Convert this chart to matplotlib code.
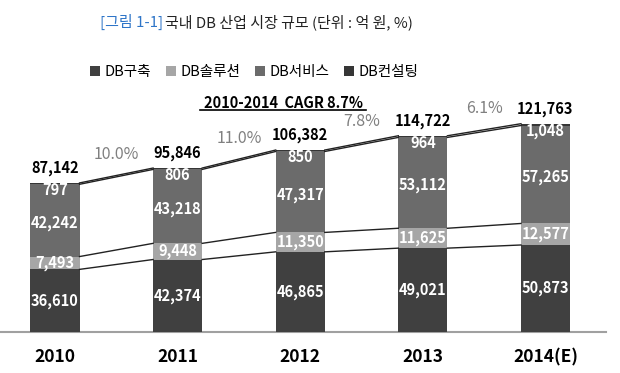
import numpy as np
import matplotlib
matplotlib.use("Agg")
import matplotlib.pyplot as plt
from matplotlib.patches import Patch

plt.rcParams["font.family"] = ["Noto Sans CJK KR", "DejaVu Sans"]

years = ["2010", "2011", "2012", "2013", "2014(E)"]
db_build = [36610, 42374, 46865, 49021, 50873]
db_solution = [7493, 9448, 11350, 11625, 12577]
db_service = [42242, 43218, 47317, 53112, 57265]
db_consult = [797, 806, 850, 964, 1048]
totals = [87142, 95846, 106382, 114722, 121763]
growth = ["10.0%", "11.0%", "7.8%", "6.1%"]
series_names = ["DB구축", "DB솔루션", "DB서비스", "DB컨설팅"]
colors = ["#404040", "#a6a6a6", "#6b6b6b", "#363636"]

W, H = 620, 373
fig = plt.figure(figsize=(W / 100, H / 100), dpi=100)
ax = fig.add_axes([0, 0, 1, 1])
ax.set_axis_off()

# map pixels: bar centres at 55 .. 545.5 px, baseline at 332 px from top
px_x = (545.5 - 55) / 4
ax.set_xlim(-55 / px_x, 4 + (W - 545.5) / px_x)
upp = 584.6  # units per pixel
ax.set_ylim(-(H - 332) * upp, 332 * upp)

x = np.arange(len(years))
bw = 0.4
series = [db_build, db_solution, db_service, db_consult]
bottom = np.zeros(len(years))
cums = []
for vals, c in zip(series, colors):
    ax.bar(x, vals, bw, bottom=bottom, color=c, edgecolor="none", zorder=2)
    bottom = bottom + np.array(vals)
    cums.append(bottom.copy())

# connector lines between bars
for cum in cums:
    for i in range(len(x) - 1):
        ax.plot([x[i] + bw / 2, x[i + 1] - bw / 2], [cum[i], cum[i + 1]],
                color="#222222", lw=1.0, zorder=3)

# baseline
ax.plot([ax.get_xlim()[0], x[-1] + (606 - 545.5) / px_x], [0, 0],
        color="#a0a0a0", lw=1.5, zorder=1)

lab = dict(color="white", fontsize=10.5, fontweight="bold", ha="center",
           va="center", zorder=4)
for i in range(len(x)):
    ax.text(x[i], db_build[i] / 2, f"{db_build[i]:,}", **lab)
    ax.text(x[i], cums[0][i] + db_solution[i] / 2, f"{db_solution[i]:,}", **lab)
    ax.text(x[i], cums[1][i] + db_service[i] / 2 - 1500, f"{db_service[i]:,}", **lab)
    ax.text(x[i], cums[3][i] - 7 * upp, f"{db_consult[i]:,}", **lab)
    ax.text(x[i], totals[i] + 15 * upp, f"{totals[i]:,}", color="black",
            fontsize=10.5, fontweight="bold", ha="center", va="center")
    ax.text(x[i], -25 * upp, years[i], color="black", fontsize=12.5,
            fontweight="bold", ha="center", va="center")

for i, g in enumerate(growth):
    y = (totals[i] + totals[i + 1]) / 2 + 21 * upp
    ax.text(x[i] + 0.5, y, g, color="#808080", fontsize=11.5,
            ha="center", va="center")

ax.text(1.86, 229 * upp, "2010-2014  CAGR 8.7%", color="black",
        fontsize=10.5, fontweight="bold", ha="center", va="center")
ax.plot([1.18, 2.54], [222 * upp, 222 * upp], color="black", lw=1.2)

handles = [Patch(facecolor=c, edgecolor="none") for c in colors]
fig.legend(handles, series_names, loc="center", bbox_to_anchor=(254 / W, 1 - 72 / H),
           ncol=4, frameon=False, fontsize=10.5, handlelength=0.7,
           handleheight=0.7, handletextpad=0.3, columnspacing=1.0)

fig.text(100 / W, 1 - 22 / H, "[그림 1-1]", color="#2e75c8", fontsize=10.8,
         ha="left", va="center")
fig.text(165 / W, 1 - 22 / H, "국내 DB 산업 시장 규모 (단위 : 억 원, %)",
         color="#222222", fontsize=10.8, ha="left", va="center")

fig.savefig("out.png", dpi=100)
